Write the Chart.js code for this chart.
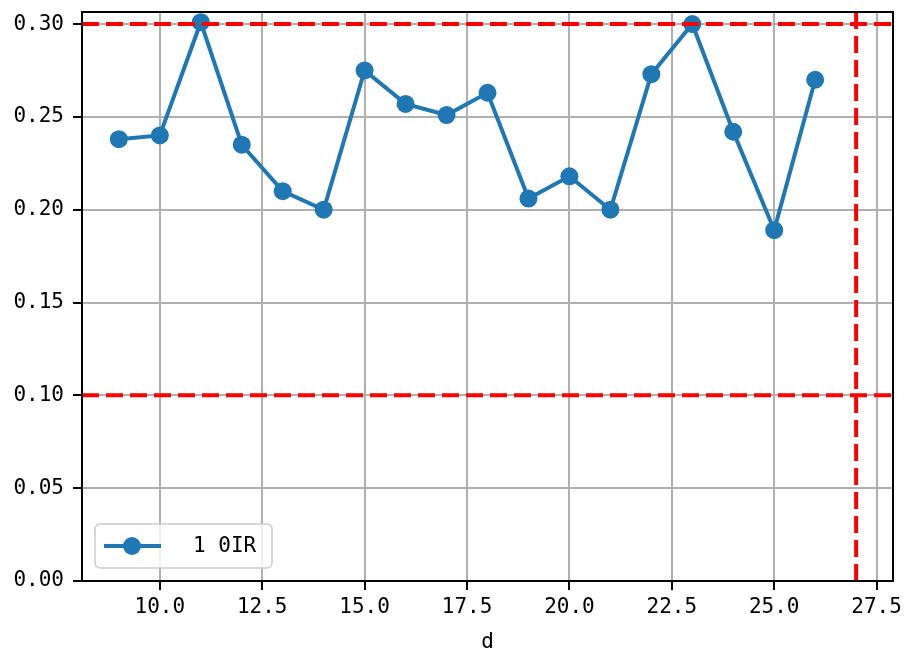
<!DOCTYPE html>
<html>
<head>
<meta charset="utf-8">
<script src="https://cdn.jsdelivr.net/npm/chart.js@4.4.0/dist/chart.umd.min.js"></script>
<style>
  html, body { margin: 0; padding: 0; background: #fff; }
</style>
</head>
<body>
<canvas id="chart" width="909" height="655"></canvas>
<script>
// data
const dValues = [9, 10, 11, 12, 13, 14, 15, 16, 17, 18, 19, 20, 21, 22, 23, 24, 25, 26];
const oirValues = [0.238, 0.240, 0.301, 0.235, 0.210, 0.200, 0.275, 0.257, 0.251, 0.263,
                   0.206, 0.218, 0.200, 0.273, 0.300, 0.242, 0.189, 0.270];
const xTicks = [10, 12.5, 15, 17.5, 20, 22.5, 25, 27.5];
const yTicks = [0, 0.05, 0.10, 0.15, 0.20, 0.25, 0.30];
const hLines = [0.30, 0.10];
const vLines = [27];
const seriesLabel = "1 0IR";
const xLabel = "d";

const FONT = "'DejaVu Sans Mono', 'Liberation Mono', monospace";
const BLUE = "#1f77b4";

// red dashed reference lines, drawn on top of the series
const refLines = {
  id: "refLines",
  afterDatasetsDraw(chart) {
    const { ctx, chartArea: a, scales } = chart;
    ctx.save();
    ctx.beginPath();
    ctx.rect(a.left, a.top, a.right - a.left, a.bottom - a.top);
    ctx.clip();
    ctx.strokeStyle = "#ff0000";
    ctx.lineWidth = 4;
    ctx.setLineDash([17, 7]);
    hLines.forEach(v => {
      const y = scales.y.getPixelForValue(v);
      ctx.beginPath();
      ctx.moveTo(a.left, y);
      ctx.lineTo(a.right, y);
      ctx.stroke();
    });
    vLines.forEach(v => {
      const x = scales.x.getPixelForValue(v);
      ctx.beginPath();
      ctx.moveTo(x, a.top);
      ctx.lineTo(x, a.bottom);
      ctx.stroke();
    });
    ctx.restore();
  },
  afterDraw(chart) {
    const { ctx, chartArea: a } = chart;
    ctx.save();
    // frame round the plot
    ctx.strokeStyle = "#000";
    ctx.lineWidth = 2;
    ctx.strokeRect(a.left, a.top, a.right - a.left, a.bottom - a.top);

    // legend box, bottom left inside the plot
    const bx = a.left + 13, by = a.bottom - 57, bw = 177, bh = 44;
    ctx.beginPath();
    ctx.roundRect(bx, by, bw, bh, 5);
    ctx.fillStyle = "rgba(255,255,255,0.8)";
    ctx.fill();
    ctx.strokeStyle = "#cccccc";
    ctx.lineWidth = 1.5;
    ctx.stroke();

    const ly = by + bh / 2;
    ctx.strokeStyle = BLUE;
    ctx.lineWidth = 4;
    ctx.beginPath();
    ctx.moveTo(bx + 9, ly);
    ctx.lineTo(bx + 66, ly);
    ctx.stroke();
    ctx.fillStyle = BLUE;
    ctx.beginPath();
    ctx.arc(bx + 37, ly, 9, 0, Math.PI * 2);
    ctx.fill();

    ctx.fillStyle = "#000";
    ctx.font = "21px " + FONT;
    ctx.textBaseline = "middle";
    ctx.textAlign = "left";
    ctx.fillText(seriesLabel, bx + 98, ly + 1);
    ctx.restore();
  }
};

const ctx = document.getElementById("chart").getContext("2d");
new Chart(ctx, {
  type: "line",
  data: {
    datasets: [{
      label: seriesLabel,
      data: dValues.map((d, i) => ({ x: d, y: oirValues[i] })),
      borderColor: BLUE,
      backgroundColor: BLUE,
      borderWidth: 4,
      pointRadius: 9,
      pointBorderWidth: 0,
      pointBackgroundColor: BLUE,
      tension: 0,
      clip: false
    }]
  },
  options: {
    responsive: false,
    devicePixelRatio: 1,
    animation: false,
    layout: { padding: { top: 12, right: 16, left: 0, bottom: 0 } },
    plugins: {
      legend: { display: false },
      tooltip: { enabled: false }
    },
    scales: {
      x: {
        type: "linear",
        min: 8.1,
        max: 27.9,
        afterBuildTicks: s => { s.ticks = xTicks.map(v => ({ value: v })); },
        afterFit: s => { s.height = 74; s.paddingLeft = 0; s.paddingRight = 0; },
        ticks: {
          callback: v => v.toFixed(1),
          font: { family: FONT, size: 21 },
          color: "#000",
          padding: 5,
          maxRotation: 0
        },
        grid: { color: "#b0b0b0", lineWidth: 2, tickLength: 9, tickColor: "#000", tickWidth: 2 },
        border: { color: "#000", width: 2 },
        title: {
          display: true,
          text: xLabel,
          font: { family: FONT, size: 21 },
          color: "#000",
          padding: { top: 0, bottom: 0 }
        }
      },
      y: {
        min: 0,
        max: 0.3065,
        afterBuildTicks: s => { s.ticks = yTicks.map(v => ({ value: v })); },
        afterFit: s => { s.width = 82; s.paddingTop = 0; s.paddingBottom = 0; },
        ticks: {
          callback: v => v.toFixed(2),
          font: { family: FONT, size: 21 },
          color: "#000",
          padding: 9
        },
        grid: { color: "#b0b0b0", lineWidth: 2, tickLength: 9, tickColor: "#000", tickWidth: 2 },
        border: { color: "#000", width: 2 }
      }
    }
  },
  plugins: [refLines]
});
</script>
</body>
</html>
